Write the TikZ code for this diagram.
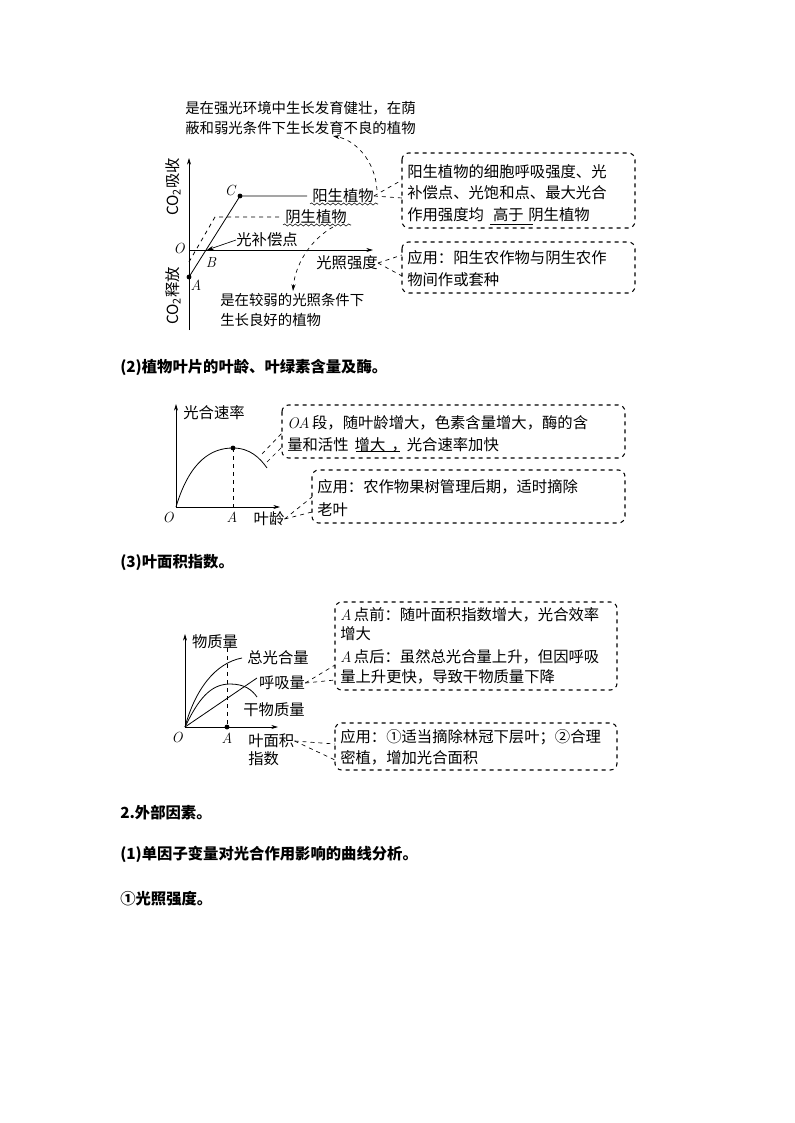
\documentclass[tikz,border=0pt]{standalone}
\usepackage{fontspec}
\newfontfamily\cjk{Noto Sans CJK SC}
\usetikzlibrary{arrows.meta,decorations.pathmorphing}
\newcommand{\lmit}[1]{{\normalfont\itshape #1}}
\begin{document}
\begin{tikzpicture}[x=0.75pt,y=-0.75pt,
  txt/.style={font=\cjk\fontsize{11.5}{13}\selectfont,inner sep=0pt,anchor=west},
  lbl/.style={font=\cjk\fontsize{11.5}{13}\selectfont,inner sep=0pt},
  note/.style={font=\cjk\fontsize{10.8}{12}\selectfont,inner sep=0pt,anchor=west},
  head/.style={font=\cjk\bfseries\fontsize{11.5}{13}\selectfont,inner sep=0pt,anchor=west},
  it/.style={font=\itshape\fontsize{11}{13}\selectfont,inner sep=0pt},
  dbox/.style={draw,dashed,rounded corners=5pt,thick},
  ax/.style={-{Stealth[length=5pt,width=3pt]},line width=0.6pt},
  con/.style={dashed,line width=0.5pt},
  dot/.style={circle,fill,inner sep=1.3pt},
  wavy/.style={decorate,decoration={snake,amplitude=0.8pt,segment length=4pt}}]
\useasboundingbox (0,0) rectangle (794,1123);
% ===== Section 1 =====
\node[note] (n1a) at (185,108) {是在强光环境中生长发育健壮，在荫};
\node[note] (n1b) at (185,128) {蔽和弱光条件下生长发育不良的植物};
\coordinate (o1) at (189,250);
\draw[ax] (189,330) -- (189,158);
\draw[ax] (189,250) -- (373,250);
\node[it] (lO) at (179,248) {O};
\coordinate (pA) at (189,277);
\coordinate (pC) at (240,196);
\node[dot] (dA) at (pA) {};
\node[dot] (dC) at (pC) {};
\node[it] (lA) at (196,285) {A};
\node[it] (lB) at (211,262) {B};
\node[it] (lC) at (230,190) {C};
\coordinate (pB) at (207,250);
\draw[line width=0.6pt] (pA) -- (pC) -- (307,196);
\node[lbl] (sun) at (343,196) {阳生植物};
\draw[wavy] (310,204) -- (378,204);
\draw[dashed,line width=0.6pt] (189,262) -- (215,217) -- (281,217);
\node[lbl] (shade) at (316,217) {阴生植物};
\draw[wavy] (283,225) -- (351,225);
\node[lbl] (comp) at (267,240) {光补偿点};
\draw[-{Stealth[length=5pt,width=3pt]},line width=0.5pt] (comp.west) -- (pB);
\node[lbl] (light) at (347,263) {光照强度};
\node[lbl,rotate=90] (up) at (173,187) {CO\textsubscript{2}吸收};
\node[lbl,rotate=90] (down) at (173,296) {CO\textsubscript{2}释放};
\node[note] (n2a) at (220,300) {是在较弱的光照条件下};
\node[note] (n2b) at (220,320) {生长良好的植物};
\draw[dbox] (402,153) rectangle (635,228);
\node[txt] (b1a) at (407,172) {阳生植物的细胞呼吸强度、光};
\node[txt] (b1b) at (407,193) {补偿点、光饱和点、最大光合};
\node[txt] (b1c) at (407,215) {作用强度均\hspace{0.6em}高于\hspace{0.3em}阴生植物};
\draw[line width=0.5pt] (490,224) -- (533,224);
\draw[dbox] (402,242) rectangle (635,293);
\node[txt] (b2a) at (407,258) {应用：阳生农作物与阴生农作};
\node[txt] (b2b) at (407,280) {物间作或套种};
\draw[con] (sun.east) -- (402,180);
\draw[con] (sun.east) -- (402,198);
\draw[con] (light.east) -- (402,255);
\draw[con] (light.east) -- (402,276);
\draw[con,-{Stealth[length=5pt,width=3pt]}] (377,190) .. controls (375,160) and (355,140) .. (333,136);
\draw[con,-{Stealth[length=5pt,width=3pt]}] (333,227) .. controls (310,240) and (295,265) .. (293,291);
\node[head] (h2) at (120,367) {(2)植物叶片的叶龄、叶绿素含量及酶。};
% ===== Section 2 =====
\draw[ax] (176,507) -- (176,404);
\draw[ax] (176,507) -- (280,507);
\node[lbl] (r2) at (214,413) {光合速率};
\coordinate (pk) at (233,448);
\draw[line width=0.6pt] (176,507) .. controls (190,460) and (212,448) .. (pk) .. controls (250,448) and (260,458) .. (267,468);
\node[dot] (dpk) at (pk) {};
\draw[dashed,line width=0.5pt] (pk) -- (233,507);
\node[it] (lO2) at (168,517) {O};
\node[it] (lA2) at (232,517) {A};
\node[lbl] (age) at (269,519) {叶龄};
\draw[dbox] (282,405) rectangle (625,458);
\node[txt] (b3a) at (287,423) {\lmit{OA}\,段，随叶龄增大，色素含量增大，酶的含};
\node[txt] (b3b) at (287,445) {量和活性\hspace{0.4em}增大\hspace{0.4em}，光合速率加快};
\draw[line width=0.5pt] (356,451) -- (400,451);
\draw[con] (262,454) -- (282,433);
\draw[con] (267,462) -- (282,447);
\draw[dbox] (312,470) rectangle (625,523);
\node[txt] (b4a) at (317,487) {应用：农作物果树管理后期，适时摘除};
\node[txt] (b4b) at (317,510) {老叶};
\draw[con] (age.east) -- (312,497);
\draw[con] (age.east) -- (312,512);
\node[head] (h3) at (120,563) {(3)叶面积指数。};
% ===== Section 3 =====
\coordinate (o3) at (185,727);
\draw[ax] (185,727) -- (185,634);
\draw[ax] (185,727) -- (278,727);
\node[lbl] (m3) at (215,642) {物质量};
\draw[line width=0.6pt] (o3) .. controls (195,690) and (215,663) .. (242,658);
\draw[line width=0.6pt] (o3) -- (257,678);
\draw[line width=0.6pt] (o3) .. controls (198,700) and (210,684) .. (230,684) .. controls (245,684) and (252,690) .. (257,697);
\draw[dashed,line width=0.5pt] (227,648) -- (227,727);
\node[dot] (dA3) at (227,727) {};
\node[lbl] (tot) at (278,658) {总光合量};
\node[lbl] (resp) at (282,683) {呼吸量};
\node[lbl] (dry) at (274,710) {干物质量};
\node[it] (lO3) at (177,737) {O};
\node[it] (lA3) at (227,738) {A};
\node[txt] (lai1) at (248,741) {叶面积};
\node[txt] (lai2) at (248,759) {指数};
\draw[dbox] (335,602) rectangle (617,690);
\node[txt] (b5a) at (340,615) {\lmit{A}\,点前：随叶面积指数增大，光合效率};
\node[txt] (b5b) at (340,634) {增大};
\node[txt] (b5c) at (340,657) {\lmit{A}\,点后：虽然总光合量上升，但因呼吸};
\node[txt] (b5d) at (340,677) {量上升更快，导致干物质量下降};
\draw[con] (resp.east) -- (335,665);
\draw[con] (resp.east) -- (335,680);
\draw[dbox] (335,723) rectangle (617,770);
\node[txt] (b6a) at (340,737) {应用：①适当摘除林冠下层叶；②合理};
\node[txt] (b6b) at (340,758) {密植，增加光合面积};
\draw[con] (lai1.east) -- (335,744);
\draw[con] (lai1.east) -- (335,760);
\node[head] (h4) at (120,813) {2.外部因素。};
\node[head] (h5) at (120,854) {(1)单因子变量对光合作用影响的曲线分析。};
\node[head] (h6) at (120,899) {①光照强度。};
\end{tikzpicture}
\end{document}
